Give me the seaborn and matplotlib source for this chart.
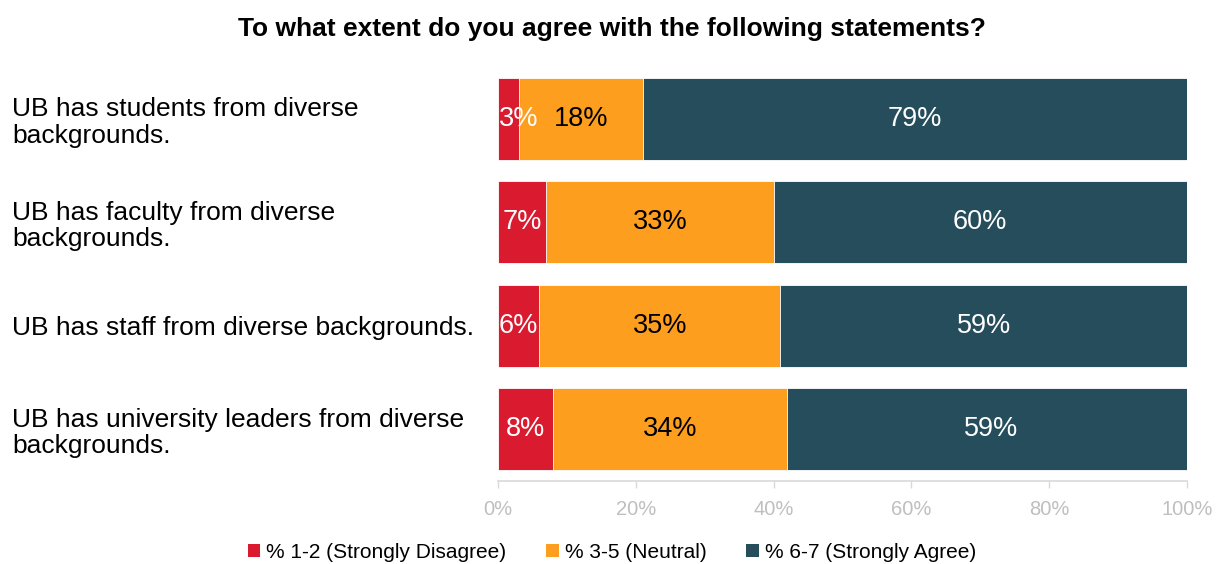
import matplotlib
matplotlib.use("Agg")
import matplotlib.pyplot as plt
import seaborn as sns
import pandas as pd
import numpy as np
from matplotlib.patches import Patch

statements = [
    "UB has students from diverse\nbackgrounds.",
    "UB has faculty from diverse\nbackgrounds.",
    "UB has staff from diverse backgrounds.",
    "UB has university leaders from diverse\nbackgrounds.",
]
disagree = [3, 7, 6, 8]
neutral = [18, 33, 35, 34]
agree = [79, 60, 59, 59]
series_names = ["% 1-2 (Strongly Disagree)", "% 3-5 (Neutral)", "% 6-7 (Strongly Agree)"]
colors = ["#DA1A2E", "#FD9E1E", "#264D5B"]
x_ticks = [0, 20, 40, 60, 80, 100]

sns.set_theme(style="white")
plt.rcParams["font.family"] = ["Liberation Sans", "DejaVu Sans"]

df = pd.DataFrame({"statement": statements, "d": disagree, "n": neutral, "a": agree})
df["c1"] = df["d"]
df["c2"] = df["d"] + df["n"]
df["c3"] = df["d"] + df["n"] + df["a"]

fig = plt.figure(figsize=(12.24, 5.64), dpi=100)
ax = fig.add_axes([498 / 1224, 1 - 481 / 564, (1187 - 498) / 1224, (481 - 67) / 564])

for col, color in zip(["c3", "c2", "c1"], colors[::-1]):
    sns.barplot(data=df, x=col, y="statement", orient="h", color=color,
                width=0.79, saturation=1, ax=ax, edgecolor="white", linewidth=0.6)

ax.set_xlim(0, 100)
ax.set_ylim(3.5, -0.5)

# labels
for i in range(len(statements)):
    starts = [0, disagree[i], disagree[i] + neutral[i]]
    vals = [disagree[i], neutral[i], agree[i]]
    tcols = ["white", "black", "white"]
    for s, v, tc in zip(starts, vals, tcols):
        if v < 5:
            ax.text(s + 0.15, i, f"{v}%", ha="left", va="center", color=tc, fontsize=19.5)
        else:
            ax.text(s + v / 2, i, f"{v}%", ha="center", va="center", color=tc, fontsize=19.5)

ax.set_xticks(x_ticks)
ax.set_xticklabels([f"{t}%" for t in x_ticks])
ax.tick_params(axis="x", colors="#D9D9D9", labelcolor="#BFBFBF", labelsize=14.5,
               length=5, width=1, direction="out", bottom=True, pad=9)
ax.tick_params(axis="y", length=0, labelsize=19, labelcolor="black", pad=0)
for lab in ax.get_yticklabels():
    lab.set_horizontalalignment("left")
    lab.set_x(-(498 - 12) / (1187 - 498))
    lab.set_linespacing(1.12)
ax.set_xlabel("")
ax.set_ylabel("")
for side in ["top", "right", "left"]:
    ax.spines[side].set_visible(False)
ax.spines["bottom"].set_color("#D9D9D9")
ax.spines["bottom"].set_linewidth(1.2)

fig.text(0.5, 1 - 29 / 564, "To what extent do you agree with the following statements?",
         ha="center", va="center", fontsize=19, fontweight="bold", color="black")

handles = [Patch(facecolor=c, edgecolor="none") for c in colors]
leg = fig.legend(handles, series_names, loc="center", bbox_to_anchor=(0.5, 1 - 552 / 564),
                 ncol=3, frameon=False, fontsize=15, handlelength=0.6, handleheight=0.6,
                 handletextpad=0.3, columnspacing=1.9)
for t in leg.get_texts():
    t.set_color("black")

fig.savefig("out.png", dpi=100)
